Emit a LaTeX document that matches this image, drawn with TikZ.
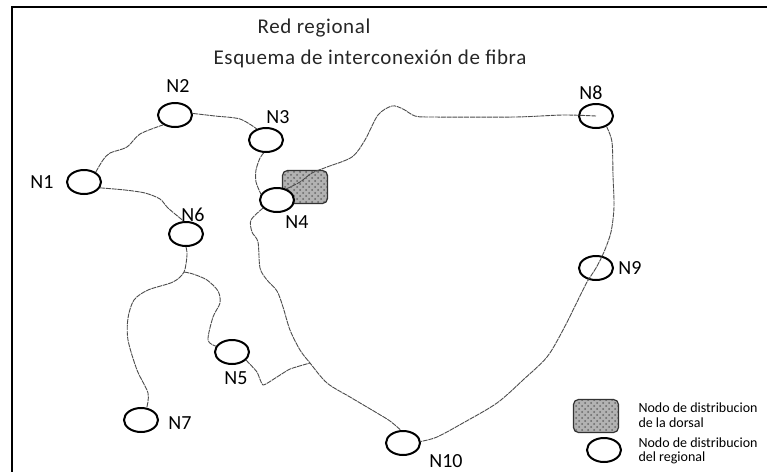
\documentclass[tikz,border=0pt]{standalone}
\usepackage{fontspec}
\setmainfont{Carlito}
\newfontfamily\spacedfont[LetterSpace=3]{Carlito}
\usetikzlibrary{shapes.geometric, patterns, positioning}
\tikzset{
  % thin fibre runs, heavier node outlines
  every picture/.append style = {line width=0.5pt},
  frameline/.style = {black, line width=1.1pt},
  regnode/.style   = {ellipse, draw, line width=1pt, fill=white,
                      minimum width=17pt, minimum height=12pt, inner sep=0pt},
  dorsal/.style    = {rectangle, rounded corners=2.5pt, draw=black!80, line width=0.6pt,
                      minimum width=22.5pt, minimum height=16.5pt,
                      preaction={fill=black!30}, pattern=crosshatch dots, pattern color=black!60},
  fibre/.style     = {black!70, line width=0.45pt, dash pattern=on 2.5pt off 0.4pt},
  lbl/.style       = {font=\fontsize{10}{12}\selectfont, inner sep=0pt},
  ttl/.style       = {font=\spacedfont\fontsize{10.5}{13}\selectfont, inner sep=0pt, black!85},
  keytext/.style   = {font=\fontsize{7}{7.3}\selectfont, align=left, anchor=west, inner sep=0pt},
}
\begin{document}
\begin{tikzpicture}[x=0.5pt, y=-0.5pt]
  \useasboundingbox (0,0) rectangle (767,472);
  % frame
  \draw[frameline] (12,472) -- (12,7) -- (767,7);
  % titles
  \node[ttl] (title) at (314,28) {Red regional};
  \node[ttl] (subtitle) at (370,59) {Esquema de interconexión de fibra};
  % nodes
  \node[regnode] (N1) at (84,182) {};
  \node[regnode] (N2) at (175,115) {};
  \node[regnode] (N3) at (266,140) {};
  \node[dorsal]  (D)  at (305,187) {};
  \node[regnode] (N4) at (277,200) {};
  \node[regnode] (N6) at (186,234) {};
  \node[regnode] (N5) at (232,352) {};
  \node[regnode] (N7) at (141,420) {};
  \node[regnode] (N8) at (596,116) {};
  \node[regnode] (N9) at (596,268) {};
  \node[regnode] (N10) at (403,443) {};
  \coordinate (J5) at (310,363);
  \coordinate (J6) at (184,272);
  % fibre runs
  \draw[fibre] plot[smooth] coordinates {(N1.40) (103,160) (110,153) (127,147) (140,134) (N2.220)};
  \draw[fibre] plot[smooth] coordinates {(N2.5) (215,116) (240,119) (N3.130)};
  \draw[fibre] plot[smooth] coordinates {(N1.-20) (125,190) (145,193) (160,199) (168,208) (N6.100)};
  \draw[fibre] plot[smooth] coordinates {(N3.-100) (260,158) (256,170) (256,182) (N4.160)};
  \draw[fibre] plot[smooth] coordinates {(N4.50) (300,182) (312,173) (327,167) (352,157)
     (365,140) (378,115) (392,106) (403,109) (415,116) (432,117) (515,117) (563,115) (N8.center)};
  \draw[fibre] plot[smooth] coordinates {(N8.-45) (612,142) (613,175) (614,207) (611,232)
     (604,252) (596,268) (587,282) (578,300) (563,330) (547,357) (523,380) (497,403)
     (463,423) (437,437) (N10.5)};
  \draw[fibre] plot[smooth] coordinates {(N4.-150) (251,220) (252,232) (258,242) (260,268)
     (267,280) (277,291) (283,307) (290,330) (300,350) (J5) (327,383) (350,397) (377,413)
     (390,421) (N10.100)};
  \draw[fibre] plot[smooth, tension=0.3] coordinates {(N5.-30) (257,372) (263,385) (277,377) (290,369) (J5)};
  \draw[fibre] plot[smooth] coordinates {(N6.-90) (187,255) (J6) (173,282) (148,290) (134,300)
     (128,318) (128,340) (137,370) (148,393) (N7.65)};
  \draw[fibre] plot[smooth] coordinates {(J6) (193,274) (207,280) (218,291) (220,303) (213,317)
     (208,340) (N5.160)};
  % node labels
  \node[lbl] (N1lbl) at (42,182) {N1};
  \node[lbl] (N2lbl) at (178,86) {N2};
  \node[lbl] (N3lbl) at (278,117) {N3};
  \node[lbl] (N4lbl) at (297,222) {N4};
  \node[lbl] (N5lbl) at (236,378) {N5};
  \node[lbl] (N6lbl) at (193,215) {N6};
  \node[lbl] (N7lbl) at (180,423) {N7};
  \node[lbl] (N8lbl) at (591,93) {N8};
  \node[lbl] (N9lbl) at (630,268) {N9};
  \node[lbl] (N10lbl) at (446,461) {N10};
  % legend
  \node[dorsal]  (keyD) at (596,416) {};
  \node[regnode] (keyR) at (604,450) {};
  \node[keytext] (keyDtxt) at (638,415) {Nodo de distribucion\\de la dorsal};
  \node[keytext] (keyRtxt) at (638,451) {Nodo de distribucion\\del regional};
\end{tikzpicture}
\end{document}
